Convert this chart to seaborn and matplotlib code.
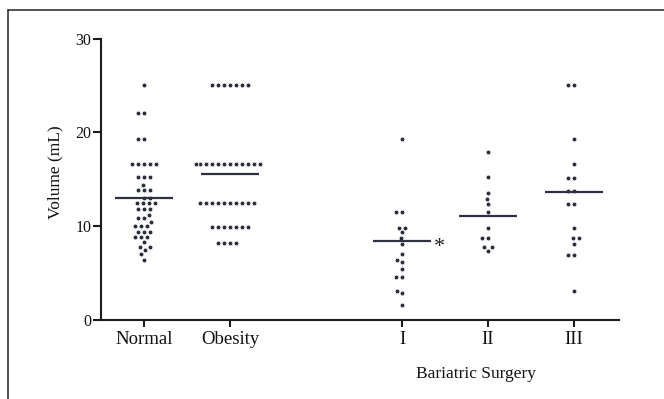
import matplotlib
matplotlib.use("Agg")
import pandas as pd
import seaborn as sns
import matplotlib.pyplot as plt
from matplotlib.lines import Line2D
from matplotlib.transforms import blended_transform_factory

# values (mL)
groups = ["Normal", "Obesity", "I", "II", "III"]
normal = [25.0, 22.1, 22.1, 19.3, 19.3, 16.6, 16.6, 16.6, 16.6, 16.6,
          15.2, 15.2, 15.2, 14.4, 13.8, 13.8, 13.8, 13.0, 13.0,
          12.4, 12.4, 12.4, 12.4, 11.8, 11.8, 11.8, 11.15, 10.85, 10.85,
          10.4, 9.95, 9.95, 9.95, 9.4, 9.4, 9.4, 8.8, 8.8, 8.8, 8.3,
          7.8, 7.8, 7.45, 6.95, 6.4]
obesity = [25.0, 25.0, 25.0, 25.0, 25.0, 25.0, 25.0,
           16.6, 16.6, 16.6, 16.6, 16.6, 16.6, 16.6, 16.6, 16.6, 16.6, 16.6, 16.6,
           12.4, 12.4, 12.4, 12.4, 12.4, 12.4, 12.4, 12.4, 12.4, 12.4,
           9.9, 9.9, 9.9, 9.9, 9.9, 9.9, 9.9,
           8.2, 8.2, 8.2, 8.2]
surgery_1 = [19.3, 11.5, 11.5, 9.8, 9.8, 9.3, 8.7, 8.1, 7.0, 6.35, 6.1,
             5.35, 4.5, 4.5, 3.05, 2.8, 1.6]
surgery_2 = [17.9, 15.2, 13.5, 12.9, 12.3, 11.5, 9.8, 8.7, 8.7, 7.8, 7.8, 7.35]
surgery_3 = [25.0, 25.0, 19.3, 16.6, 15.1, 15.1, 13.7, 13.7, 12.3, 12.3,
             9.8, 8.7, 8.7, 8.1, 6.9, 6.9, 3.0]
group_means = [13.0, 15.5, 8.4, 11.1, 13.6]

# long format table
values = [normal, obesity, surgery_1, surgery_2, surgery_3]
df = pd.concat([pd.DataFrame({"group": g, "volume": v}) for g, v in zip(groups, values)],
               ignore_index=True)

order = ["Normal", "Obesity", " ", "I", "II", "III"]  # blank slot makes the gap

sns.set_style("ticks")
plt.rcParams["font.family"] = ["Liberation Serif", "DejaVu Serif"]

dot_color = "#2b2e3b"
ink = "#1c1c1c"

fig, ax = plt.subplots(figsize=(6.64, 3.99), dpi=100)
fig.subplots_adjust(left=0.152, right=0.932, bottom=0.199, top=0.9035)

sns.swarmplot(data=df, x="group", y="volume", order=order, color=dot_color,
              size=3.5, linewidth=0.6, edgecolor="white", ax=ax)

# mean bars
for g, m in zip(groups, group_means):
    i = order.index(g)
    ax.hlines(m, i - 0.34, i + 0.34, color="#2d3142", lw=1.6, zorder=5)

ax.set_xlim(-0.5, 5.52)
ax.set_ylim(0, 30)
ax.set_yticks([0, 10, 20, 30])
ax.set_xticks([order.index(g) for g in groups], labels=groups)
ax.set_xlabel("")
ax.set_ylabel("")

for s in ["top", "right"]:
    ax.spines[s].set_visible(False)
for s in ["left", "bottom"]:
    ax.spines[s].set_linewidth(1.5)
    ax.spines[s].set_color(ink)

ax.tick_params(axis="x", direction="out", length=5, width=1.5, color=ink,
               labelsize=13.5, pad=3, labelcolor="#111")
ax.tick_params(axis="y", direction="out", length=6, width=1.5, color=ink,
               labelsize=11.5, pad=1, labelcolor="#111")

ax.text(-0.087, 0.525, "Volume (mL)", transform=ax.transAxes, rotation=90,
        ha="center", va="center", fontsize=12.5, color="#111")

trans = blended_transform_factory(ax.transData, ax.transAxes)
ax.text(3.86, -0.195, "Bariatric Surgery", transform=trans, ha="center",
        va="center", fontsize=12.5, color="#111")

# significance mark next to group I
ax.text(order.index("I") + 0.44, 7.2, "*", ha="center", va="baseline",
        fontsize=16, color="#222")

# frame of the original figure panel
fig.add_artist(Line2D([8 / 664, 8 / 664], [0, 1 - 10 / 399], transform=fig.transFigure,
                      color="#222", lw=1.1))
fig.add_artist(Line2D([8 / 664, 1], [1 - 10 / 399, 1 - 10 / 399], transform=fig.transFigure,
                      color="#222", lw=1.1))

fig.savefig("out.png", dpi=100)
